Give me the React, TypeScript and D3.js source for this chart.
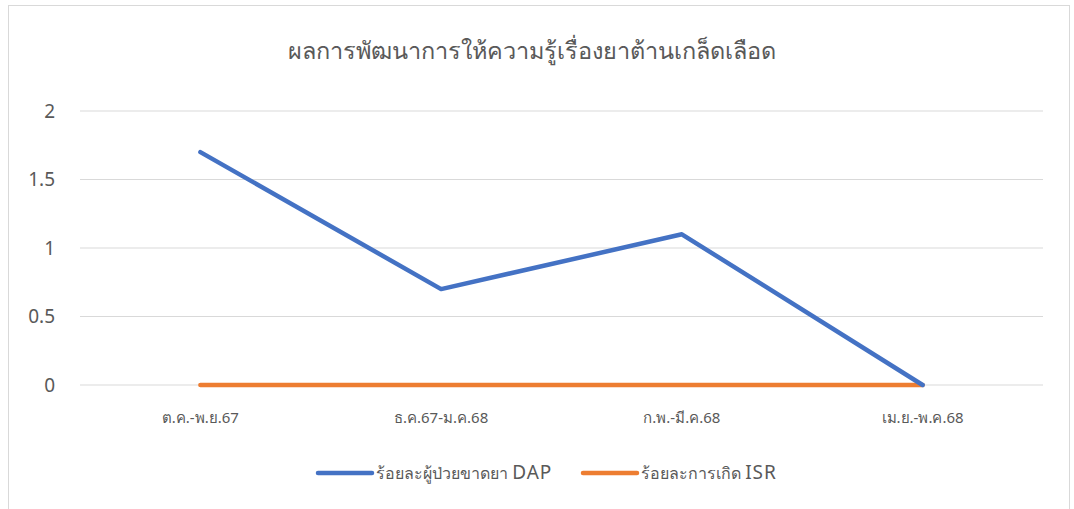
import React, { useEffect, useRef } from "react";
import * as d3 from "d3";

const categories = ["ต.ค.-พ.ย.67", "ธ.ค.67-ม.ค.68", "ก.พ.-มี.ค.68", "เม.ย.-พ.ค.68"];
const dapValues = [1.7, 0.7, 1.1, 0];
const isrValues = [0, 0, 0, 0];
const yTicks = [0, 0.5, 1, 1.5, 2];
const seriesThai = ["ร้อยละผู้ป่วยขาดยา ", "ร้อยละการเกิด "];
const seriesLatin = ["DAP", "ISR"];
const seriesColors = ["#4472C4", "#ED7D31"];
const title = "ผลการพัฒนาการให้ความรู้เรื่องยาต้านเกล็ดเลือด";

const W = 1074;
const H = 509;
const FONT = "'Noto Sans', 'Open Sans', sans-serif";

const App = () => {
  const ref = useRef<SVGSVGElement>(null);

  useEffect(() => {
    const svg = d3.select(ref.current);
    svg.selectAll("*").remove();

    // chart frame
    svg
      .append("rect")
      .attr("x", 8.5)
      .attr("y", 5.5)
      .attr("width", 1061)
      .attr("height", 520)
      .attr("fill", "white")
      .attr("stroke", "#d9d9d9")
      .attr("stroke-width", 1);

    const left = 80;
    const right = 1043;
    const top = 111;
    const bottom = 385;

    const x = d3.scaleBand().domain(categories).range([left, right]);
    const y = d3.scaleLinear().domain([0, 2]).range([bottom, top]);

    svg
      .append("text")
      .attr("x", 532)
      .attr("y", 59)
      .attr("text-anchor", "middle")
      .attr("fill", "#595959")
      .style("font-family", FONT)
      .style("font-size", "23.5px")
      .style("font-weight", 300)
      .text(title);

    // gridlines
    svg
      .append("g")
      .selectAll("line")
      .data(yTicks)
      .join("line")
      .attr("x1", left)
      .attr("x2", right)
      .attr("y1", (d) => y(d))
      .attr("y2", (d) => y(d))
      .attr("stroke", "#d9d9d9")
      .attr("stroke-width", 1);

    svg
      .append("g")
      .selectAll("text")
      .data(yTicks)
      .join("text")
      .attr("x", 55)
      .attr("y", (d) => y(d))
      .attr("dy", "0.36em")
      .attr("text-anchor", "end")
      .attr("fill", "#595959")
      .style("font-family", FONT)
      .style("font-size", "19px")
      .text((d) => String(d));

    svg
      .append("g")
      .selectAll("text")
      .data(categories)
      .join("text")
      .attr("x", (d) => x(d)! + x.bandwidth() / 2)
      .attr("y", 423)
      .attr("text-anchor", "middle")
      .attr("fill", "#595959")
      .style("font-family", FONT)
      .style("font-size", "15px")
      .text((d) => d);

    const line = d3
      .line<number>()
      .x((d, i) => x(categories[i])! + x.bandwidth() / 2)
      .y((d) => y(d));

    // orange drawn first, blue on top
    [
      { vals: isrValues, color: seriesColors[1] },
      { vals: dapValues, color: seriesColors[0] },
    ].forEach((s) => {
      svg
        .append("path")
        .datum(s.vals)
        .attr("d", line)
        .attr("fill", "none")
        .attr("stroke", s.color)
        .attr("stroke-width", 4.5)
        .attr("stroke-linecap", "round")
        .attr("stroke-linejoin", "round");
    });

    // legend
    const legendX = [318, 583];
    const legend = svg.append("g");
    seriesThai.forEach((name, i) => {
      legend
        .append("line")
        .attr("x1", legendX[i])
        .attr("x2", legendX[i] + 54)
        .attr("y1", 473)
        .attr("y2", 473)
        .attr("stroke", seriesColors[i])
        .attr("stroke-width", 4.5)
        .attr("stroke-linecap", "round");
      const t = legend
        .append("text")
        .attr("x", legendX[i] + 58)
        .attr("y", 473)
        .attr("dy", "0.36em")
        .attr("fill", "#595959")
        .style("font-family", FONT);
      t.append("tspan").style("font-size", "16px").text(name);
      t.append("tspan")
        .style("font-size", "19px")
        .style("letter-spacing", "1px")
        .text(seriesLatin[i]);
    });
  }, []);

  return (
    <div style={{ position: "absolute", left: 0, top: 0 }}>
      <svg ref={ref} width={W} height={H} style={{ display: "block" }}></svg>
    </div>
  );
};

export default App;
